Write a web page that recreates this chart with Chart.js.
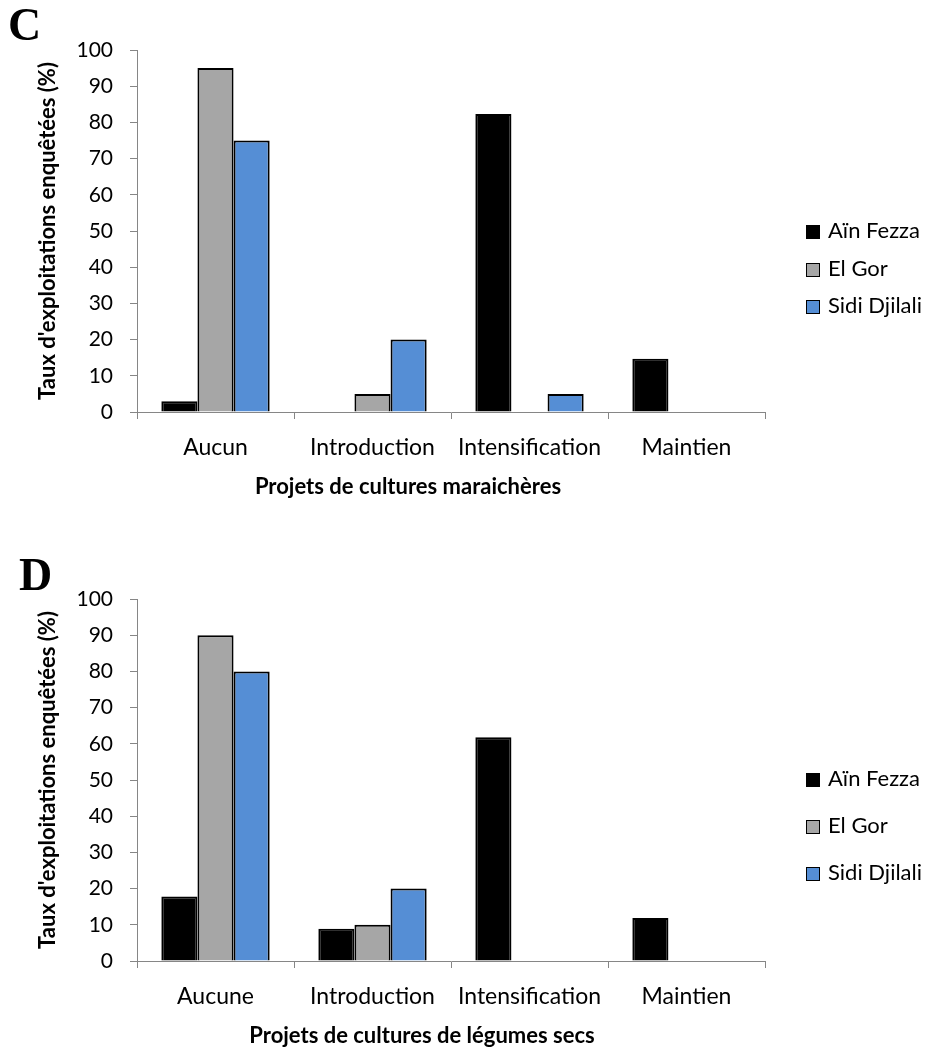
<!DOCTYPE html>
<html>
<head>
<meta charset="utf-8">
<script src="https://cdn.jsdelivr.net/npm/chart.js@4"></script>
<style>
  body { margin: 0; background: #fff; overflow: hidden; }
  .wrap { position: relative; width: 935px; height: 1048px; overflow: hidden; }
  canvas { position: absolute; left: 0; }
  .letter { position: absolute; font-family: "Liberation Serif", serif; font-weight: bold; font-size: 46px; line-height: 46px; color: #000; }
  .legend { position: absolute; left: 806px; font-family: Lato, sans-serif; font-size: 22px; color: #000; }
  .legend div { position: absolute; white-space: nowrap; height: 22px; line-height: 22px; }
  .legend span { display: inline-block; width: 12px; height: 12px; border: 1.5px solid #000; vertical-align: -1px; margin-right: 8px; }
  .xtitle { position: absolute; width: 600px; text-align: center; font-family: Lato, sans-serif; font-weight: bold; font-size: 22px; line-height: 26px; color: #000; }
</style>
</head>
<body>
<div class="wrap">
  <canvas id="chartC" width="935" height="520" style="top:0;"></canvas>
  <canvas id="chartD" width="935" height="520" style="top:549px;"></canvas>
  <div class="letter" style="left:8px; top:2px;">C</div>
  <div class="letter" style="left:19px; top:552px;">D</div>
  <div class="xtitle" id="titleC" style="left:108px; top:473px;"></div>
  <div class="xtitle" id="titleD" style="left:122px; top:1022px;"></div>
  <div class="legend" id="legendC"></div>
  <div class="legend" id="legendD"></div>
</div>
<script>
// series names and colours
var seriesNames = ['Aïn Fezza', 'El Gor', 'Sidi Djilali'];
var seriesColors = ['#000000', '#a6a6a6', '#558ed5'];

// C - cultures maraichères
var categoriesC = ['Aucun', 'Introduction', 'Intensification', 'Maintien'];
var ainFezzaC = [3, 0, 82.3, 14.7];
var elGorC = [95, 5, 0, 0];
var sidiDjilaliC = [75, 20, 5, 0];

// D - légumes secs
var categoriesD = ['Aucune', 'Introduction', 'Intensification', 'Maintien'];
var ainFezzaD = [17.8, 8.9, 61.8, 11.9];
var elGorD = [90, 10, 0, 0];
var sidiDjilaliD = [80, 20, 0, 0];

var yTicks = [0, 10, 20, 30, 40, 50, 60, 70, 80, 90, 100];

var axisGrey = '#868686';
var font = 'Lato';

function makeChart(id, labels, values) {
    var ctx = document.getElementById(id).getContext('2d');
    var datasets = [];
    for (var i = 0; i < seriesNames.length; i++) {
        datasets.push({
            label: seriesNames[i],
            data: values[i],
            backgroundColor: seriesColors[i],
            borderColor: '#000',
            borderWidth: 2,
            barPercentage: 1,
            categoryPercentage: 0.69
        });
    }
    return new Chart(ctx, {
        type: 'bar',
        data: { labels: labels, datasets: datasets },
        options: {
            responsive: false,
            animation: false,
            layout: { padding: { left: 0, right: 170, top: 50, bottom: 0 } },
            plugins: { legend: { display: false }, tooltip: { enabled: false } },
            scales: {
                x: {
                    grid: { drawOnChartArea: false, drawTicks: true, tickLength: 7, color: axisGrey, offset: true },
                    border: { color: axisGrey, width: 1 },
                    ticks: { color: '#000', font: { family: font, size: 23 }, padding: 15, maxRotation: 0, autoSkip: false },
                    afterFit: function(scale) { scale.height = 108; }
                },
                y: {
                    min: 0, max: 100,
                    afterBuildTicks: function(scale) { scale.ticks = yTicks.map(function(v) { return { value: v }; }); },
                    grid: { drawOnChartArea: false, drawTicks: true, tickLength: 7, color: axisGrey },
                    border: { color: axisGrey, width: 1 },
                    ticks: { color: '#000', font: { family: font, size: 21 }, padding: 17 },
                    title: { display: true, text: "Taux d'exploitations enquêtées (%)", color: '#000', font: { family: font, size: 22, weight: 'bold' }, padding: { top: 35, bottom: 0 } },
                    afterFit: function(scale) { scale.width = 137; }
                }
            }
        }
    });
}

function makeLegend(id, tops) {
    var el = document.getElementById(id);
    for (var i = 0; i < seriesNames.length; i++) {
        var row = document.createElement('div');
        row.style.top = (tops[i] - 11) + 'px';
        row.innerHTML = '<span style="background:' + seriesColors[i] + '"></span>' + seriesNames[i];
        el.appendChild(row);
    }
}

window.onload = function() {
    makeChart('chartC', categoriesC, [ainFezzaC, elGorC, sidiDjilaliC]);
    makeChart('chartD', categoriesD, [ainFezzaD, elGorD, sidiDjilaliD]);
    document.getElementById('titleC').textContent = 'Projets de cultures maraichères';
    document.getElementById('titleD').textContent = 'Projets de cultures de légumes secs';
    makeLegend('legendC', [230, 268, 305]);
    makeLegend('legendD', [778, 825, 872]);
};
</script>
</body>
</html>
